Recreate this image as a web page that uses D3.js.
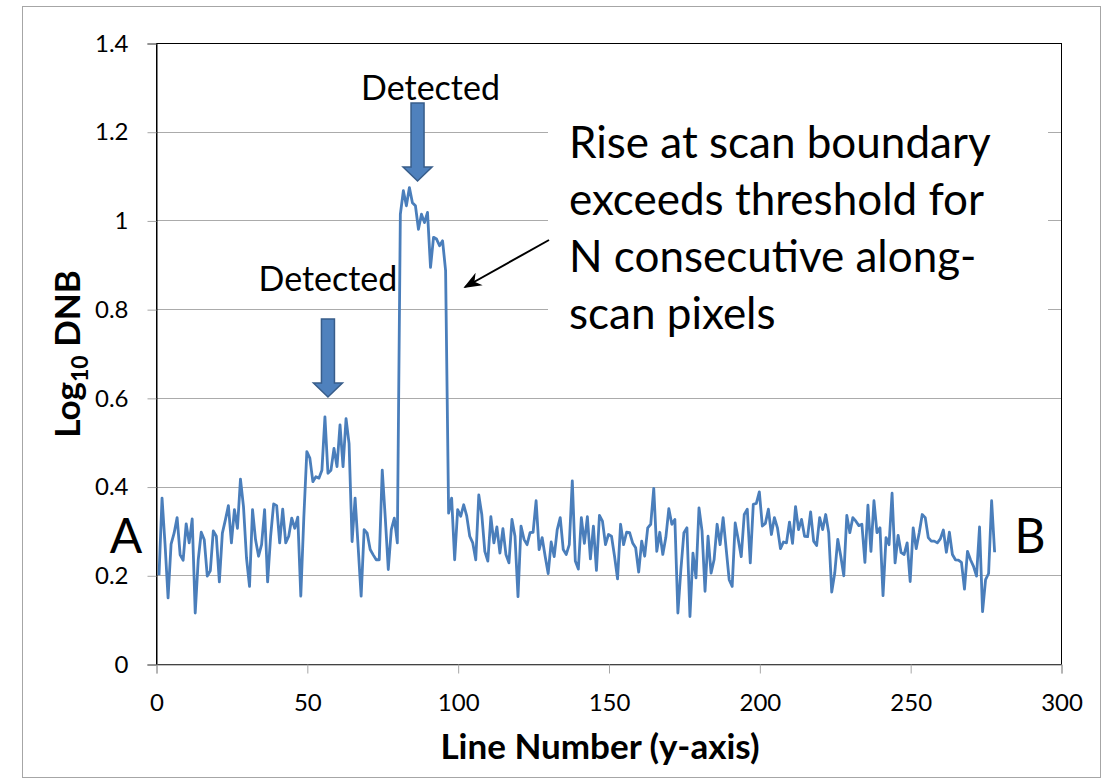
<!DOCTYPE html>
<html>
<head>
<meta charset="utf-8">
<script src="https://cdn.jsdelivr.net/npm/d3@7"></script>
<style>
  body { margin: 0; background: #fff; }
  svg { display: block; font-family: Lato, "Open Sans", sans-serif; }
</style>
</head>
<body>
<div id="chart"></div>
<script>
// Log10 DNB along one scan column, line numbers 1..278
var dnb = [
  0.200, 0.374, 0.270, 0.149, 0.270, 0.295, 0.330, 0.246, 0.234, 0.316,
  0.273, 0.327, 0.115, 0.235, 0.297, 0.280, 0.198, 0.210, 0.300, 0.288,
  0.185, 0.295, 0.325, 0.357, 0.273, 0.348, 0.306, 0.417, 0.355, 0.239,
  0.175, 0.348, 0.280, 0.243, 0.269, 0.348, 0.185, 0.288, 0.361, 0.357,
  0.273, 0.349, 0.273, 0.288, 0.329, 0.306, 0.331, 0.153, 0.330, 0.479,
  0.464, 0.411, 0.422, 0.419, 0.437, 0.557, 0.430, 0.437, 0.486, 0.445,
  0.539, 0.445, 0.553, 0.497, 0.276, 0.374, 0.265, 0.153, 0.303, 0.295,
  0.258, 0.246, 0.235, 0.235, 0.437, 0.330, 0.213, 0.303, 0.329, 0.273,
  1.014, 1.067, 1.033, 1.074, 1.040, 1.033, 0.980, 1.014, 0.995, 1.018,
  0.894, 0.962, 0.958, 0.943, 0.954, 0.887, 0.340, 0.374, 0.235, 0.348,
  0.333, 0.359, 0.334, 0.288, 0.273, 0.235, 0.381, 0.337, 0.254, 0.232,
  0.332, 0.273, 0.309, 0.250, 0.305, 0.247, 0.228, 0.326, 0.288, 0.152,
  0.311, 0.281, 0.269, 0.296, 0.297, 0.368, 0.258, 0.285, 0.243, 0.204,
  0.275, 0.242, 0.303, 0.330, 0.258, 0.247, 0.269, 0.413, 0.232, 0.214,
  0.330, 0.272, 0.332, 0.237, 0.311, 0.211, 0.335, 0.322, 0.269, 0.292,
  0.288, 0.243, 0.192, 0.315, 0.269, 0.297, 0.296, 0.273, 0.262, 0.207,
  0.277, 0.243, 0.307, 0.315, 0.396, 0.254, 0.297, 0.247, 0.285, 0.350,
  0.315, 0.326, 0.115, 0.213, 0.296, 0.307, 0.107, 0.250, 0.194, 0.352,
  0.300, 0.164, 0.288, 0.205, 0.235, 0.315, 0.269, 0.330, 0.260, 0.190,
  0.175, 0.318, 0.281, 0.242, 0.337, 0.349, 0.228, 0.360, 0.362, 0.388,
  0.311, 0.317, 0.349, 0.292, 0.330, 0.307, 0.260, 0.275, 0.273, 0.320,
  0.272, 0.355, 0.303, 0.326, 0.288, 0.287, 0.343, 0.277, 0.267, 0.330,
  0.303, 0.337, 0.296, 0.162, 0.205, 0.281, 0.243, 0.199, 0.335, 0.296,
  0.330, 0.322, 0.312, 0.315, 0.229, 0.358, 0.254, 0.368, 0.296, 0.307,
  0.154, 0.285, 0.269, 0.385, 0.228, 0.290, 0.251, 0.247, 0.273, 0.186,
  0.307, 0.260, 0.296, 0.337, 0.330, 0.285, 0.277, 0.277, 0.273, 0.282,
  0.302, 0.252, 0.297, 0.247, 0.235, 0.234, 0.229, 0.169, 0.254, 0.235,
  0.220, 0.198, 0.309, 0.118, 0.190, 0.204, 0.368, 0.252
];

var xTicks = [0, 50, 100, 150, 200, 250, 300];
var yTicks = [0, 0.2, 0.4, 0.6, 0.8, 1.0, 1.2, 1.4];

// block arrows marking detections (line number, shaft top, tip, label baseline, label x)
var detections = [
  { label: "Detected", x: 57, top: 0.778, tip: 0.602, labelY: 0.841, labelX: 57 },
  { label: "Detected", x: 86.7, top: 1.265, tip: 1.089, labelY: 1.271, labelX: 91 }
];

var noteLines = ["Rise at scan boundary", "exceeds threshold for",
                 "N consecutive along-", "scan pixels"];

var width = 1107, height = 782;
var plot = { left: 156, top: 43, right: 1061, bottom: 664 };

var svg = d3.select("#chart").append("svg")
    .attr("width", width)
    .attr("height", height);

// outer chart frame
svg.append("rect")
    .attr("x", 22.5).attr("y", 6.5)
    .attr("width", 1078).attr("height", 771)
    .attr("fill", "#fff")
    .attr("stroke", "#a6a6a6");

var x = d3.scaleLinear().domain([0, 300]).range([plot.left, plot.right]);
var y = d3.scaleLinear().domain([0, 1.4]).range([plot.bottom, plot.top]);

var fmt = function(d) { return String(+d.toFixed(1)); };

// gridlines
svg.append("g")
  .selectAll("line")
  .data(yTicks.slice(1))
  .enter().append("line")
    .attr("x1", plot.left).attr("x2", plot.right)
    .attr("y1", function(d) { return Math.round(y(d)) + 0.5; })
    .attr("y2", function(d) { return Math.round(y(d)) + 0.5; })
    .attr("stroke", "#ababab")
    .attr("stroke-width", 1);

// plot area border
svg.append("rect")
    .attr("x", plot.left + 0.5).attr("y", plot.top + 0.5)
    .attr("width", plot.right - plot.left)
    .attr("height", plot.bottom - plot.top)
    .attr("fill", "none")
    .attr("stroke", "#000")
    .attr("stroke-width", 1);

var yAxis = svg.append("g")
    .attr("transform", "translate(" + (plot.left + 0.5) + ",0.5)")
    .call(d3.axisLeft(y).tickValues(yTicks).tickFormat(fmt)
          .tickSize(9).tickPadding(19));

var xAxis = svg.append("g")
    .attr("transform", "translate(0.5," + (plot.bottom + 0.5) + ")")
    .call(d3.axisBottom(x).tickValues(xTicks).tickFormat(fmt)
          .tickSize(9).tickPadding(20));

yAxis.select(".domain").attr("stroke", "#000");
xAxis.select(".domain").attr("stroke", "#868686");
svg.selectAll(".tick line").attr("stroke", "#a6a6a6");
svg.selectAll(".tick text")
    .attr("fill", "#000")
    .style("font-family", "Lato, sans-serif")
    .style("font-size", "24px");

// the series
var line = d3.line()
    .x(function(d, i) { return x(i + 1); })
    .y(function(d) { return y(d); });

svg.append("path")
    .datum(dnb)
    .attr("d", line)
    .attr("fill", "none")
    .attr("stroke", "#4a7ebb")
    .attr("stroke-width", 2.8)
    .attr("stroke-linejoin", "round");

// axis titles
svg.append("text")
    .attr("x", 600).attr("y", 759)
    .attr("text-anchor", "middle")
    .style("font-weight", "bold")
    .style("font-size", "35px")
    .text("Line Number (y-axis)");

var yt = svg.append("text")
    .attr("transform", "translate(80,354) rotate(-90)")
    .attr("text-anchor", "middle")
    .style("font-weight", "bold")
    .style("font-size", "35px");
yt.append("tspan").text("Log");
yt.append("tspan").attr("dy", 8).style("font-size", "23px").text("10");
yt.append("tspan").attr("dy", -8).text(" DNB");

// detection arrows and labels
var headH = 14, shaftW = 13, headW = 29;
detections.forEach(function(d) {
  var cx = x(d.x), top = y(d.top), tip = y(d.tip), hs = tip - headH;
  var pts = [[cx - shaftW / 2, top], [cx + shaftW / 2, top], [cx + shaftW / 2, hs],
             [cx + headW / 2, hs], [cx, tip], [cx - headW / 2, hs], [cx - shaftW / 2, hs]];
  svg.append("path")
      .attr("d", d3.line()(pts) + "Z")
      .attr("fill", "#4f81bd")
      .attr("stroke", "#385d8a")
      .attr("stroke-width", 1.5);
  svg.append("text")
      .attr("x", x(d.labelX)).attr("y", y(d.labelY))
      .attr("text-anchor", "middle")
      .style("font-size", "34px")
      .text(d.label);
});

// note box with pointer
svg.append("rect")
    .attr("x", 548).attr("y", 108)
    .attr("width", 500).attr("height", 232)
    .attr("fill", "#fff");

svg.append("defs").append("marker")
    .attr("id", "head")
    .attr("viewBox", "0 0 10 10")
    .attr("refX", 9).attr("refY", 5)
    .attr("markerWidth", 9).attr("markerHeight", 9)
    .attr("orient", "auto")
  .append("path")
    .attr("d", "M0,1 L10,5 L0,9 L3,5 Z")
    .attr("fill", "#000");

svg.append("line")
    .attr("x1", 549).attr("y1", 240)
    .attr("x2", 465).attr("y2", 287)
    .attr("stroke", "#000")
    .attr("stroke-width", 2)
    .attr("marker-end", "url(#head)");

svg.append("g")
  .selectAll("text")
  .data(noteLines)
  .enter().append("text")
    .attr("x", 569)
    .attr("y", function(d, i) { return 158 + i * 57; })
    .style("font-size", "44px")
    .text(function(d) { return d; });

// end labels
svg.append("text").attr("x", 126).attr("y", 553)
    .attr("text-anchor", "middle").style("font-size", "48px").text("A");
svg.append("text").attr("x", 1030).attr("y", 553)
    .attr("text-anchor", "middle").style("font-size", "48px").text("B");
</script>
</body>
</html>
